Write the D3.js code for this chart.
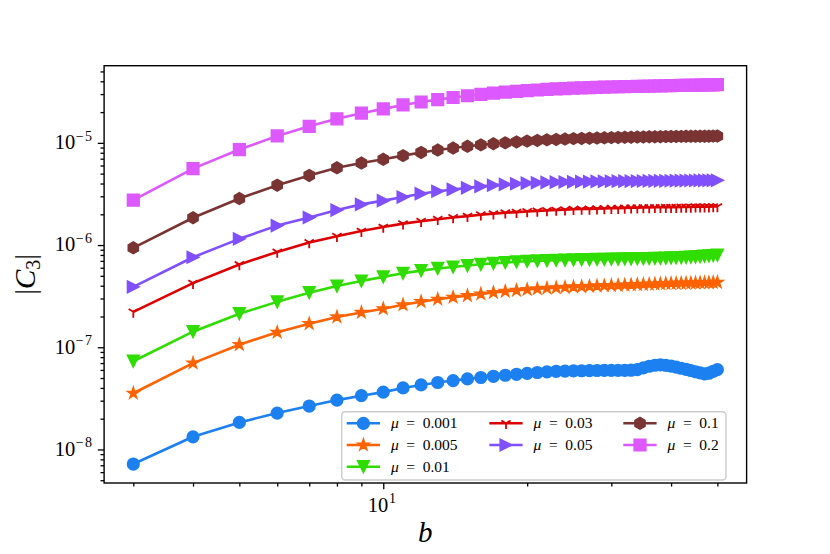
<!DOCTYPE html>
<html>
<head>
<meta charset="utf-8">
<script src="https://cdn.jsdelivr.net/npm/d3@7"></script>
<style>
body { margin: 0; background: #fff; }
svg { display: block; }
text { font-family: "Liberation Serif", "DejaVu Serif", serif; fill: #000; }
</style>
</head>
<body>
<div id="chart"></div>
<script>
// b values (x axis)
const bValues = [3, 4, 5, 6, 7, 8, 9, 10, 11, 12, 13, 14, 15, 16, 17, 18, 19, 20,
    21, 22, 23, 24, 25, 26, 27, 28, 29, 30, 31, 32, 33, 34, 35, 36, 37, 38, 39, 40,
    41, 42, 43, 44, 45, 46, 47, 48, 49, 50];

// |C3| for each mu
const c3Mu0001 = [7.2e-9, 1.33e-8, 1.84e-8, 2.27e-8, 2.66e-8, 3.04e-8, 3.36e-8, 3.64e-8,
    4.0e-8, 4.28e-8, 4.52e-8, 4.72e-8, 4.9e-8, 5.06e-8, 5.2e-8, 5.32e-8, 5.44e-8, 5.56e-8,
    5.66e-8, 5.75e-8, 5.82e-8, 5.85e-8, 5.87e-8, 5.89e-8, 5.9e-8, 5.92e-8, 5.93e-8, 5.93e-8,
    5.93e-8, 5.94e-8, 5.96e-8, 6.05e-8, 6.28e-8, 6.52e-8, 6.67e-8, 6.72e-8, 6.65e-8, 6.55e-8,
    6.4e-8, 6.23e-8, 6.07e-8, 5.92e-8, 5.76e-8, 5.62e-8, 5.49e-8, 5.57e-8, 5.82e-8, 6.05e-8];
const c3Mu0005 = [3.55e-8, 7.0e-8, 1.06e-7, 1.4e-7, 1.7e-7, 1.98e-7, 2.19e-7, 2.38e-7,
    2.6e-7, 2.79e-7, 2.95e-7, 3.08e-7, 3.2e-7, 3.32e-7, 3.43e-7, 3.52e-7, 3.6e-7, 3.67e-7,
    3.73e-7, 3.78e-7, 3.82e-7, 3.86e-7, 3.89e-7, 3.92e-7, 3.95e-7, 3.98e-7, 4.0e-7, 4.02e-7,
    4.04e-7, 4.06e-7, 4.08e-7, 4.1e-7, 4.12e-7, 4.14e-7, 4.16e-7, 4.18e-7, 4.2e-7, 4.21e-7,
    4.22e-7, 4.23e-7, 4.24e-7, 4.25e-7, 4.26e-7, 4.27e-7, 4.28e-7, 4.29e-7, 4.3e-7, 4.31e-7];
const c3Mu001 = [7.3e-8, 1.42e-7, 2.13e-7, 2.78e-7, 3.42e-7, 3.97e-7, 4.45e-7, 4.88e-7,
    5.3e-7, 5.62e-7, 5.9e-7, 6.1e-7, 6.3e-7, 6.48e-7, 6.62e-7, 6.75e-7, 6.86e-7, 6.94e-7,
    7.0e-7, 7.05e-7, 7.1e-7, 7.13e-7, 7.16e-7, 7.19e-7, 7.21e-7, 7.23e-7, 7.25e-7, 7.27e-7,
    7.29e-7, 7.31e-7, 7.33e-7, 7.35e-7, 7.37e-7, 7.39e-7, 7.41e-7, 7.43e-7, 7.45e-7, 7.48e-7,
    7.51e-7, 7.54e-7, 7.58e-7, 7.62e-7, 7.67e-7, 7.72e-7, 7.78e-7, 7.84e-7, 7.9e-7, 7.98e-7];
const c3Mu003 = [2.22e-7, 4.24e-7, 6.45e-7, 8.57e-7, 1.06e-6, 1.22e-6, 1.37e-6, 1.5e-6,
    1.62e-6, 1.71e-6, 1.79e-6, 1.86e-6, 1.92e-6, 1.98e-6, 2.03e-6, 2.07e-6, 2.1e-6, 2.13e-6,
    2.16e-6, 2.18e-6, 2.2e-6, 2.22e-6, 2.24e-6, 2.25e-6, 2.26e-6, 2.27e-6, 2.28e-6, 2.29e-6,
    2.3e-6, 2.31e-6, 2.32e-6, 2.32e-6, 2.33e-6, 2.33e-6, 2.34e-6, 2.34e-6, 2.35e-6, 2.35e-6,
    2.35e-6, 2.36e-6, 2.36e-6, 2.36e-6, 2.37e-6, 2.37e-6, 2.37e-6, 2.37e-6, 2.38e-6, 2.38e-6];
const c3Mu005 = [3.9e-7, 7.6e-7, 1.15e-6, 1.55e-6, 1.86e-6, 2.2e-6, 2.5e-6, 2.72e-6,
    2.95e-6, 3.18e-6, 3.36e-6, 3.5e-6, 3.63e-6, 3.75e-6, 3.85e-6, 3.92e-6, 3.98e-6, 4.03e-6,
    4.07e-6, 4.1e-6, 4.12e-6, 4.14e-6, 4.16e-6, 4.17e-6, 4.18e-6, 4.19e-6, 4.2e-6, 4.21e-6,
    4.215e-6, 4.22e-6, 4.225e-6, 4.23e-6, 4.235e-6, 4.24e-6, 4.245e-6, 4.25e-6, 4.255e-6, 4.26e-6,
    4.265e-6, 4.27e-6, 4.275e-6, 4.28e-6, 4.285e-6, 4.29e-6, 4.29e-6, 4.295e-6, 4.3e-6, 4.3e-6];
const c3Mu01 = [9.4e-7, 1.85e-6, 2.85e-6, 3.85e-6, 4.8e-6, 5.7e-6, 6.35e-6, 6.9e-6,
    7.5e-6, 8.05e-6, 8.5e-6, 8.9e-6, 9.25e-6, 9.55e-6, 9.8e-6, 1.0e-5, 1.02e-5, 1.04e-5,
    1.055e-5, 1.07e-5, 1.08e-5, 1.09e-5, 1.1e-5, 1.105e-5, 1.11e-5, 1.115e-5, 1.12e-5, 1.125e-5,
    1.13e-5, 1.133e-5, 1.136e-5, 1.139e-5, 1.142e-5, 1.145e-5, 1.147e-5, 1.149e-5, 1.151e-5, 1.153e-5,
    1.155e-5, 1.157e-5, 1.158e-5, 1.159e-5, 1.16e-5, 1.161e-5, 1.162e-5, 1.163e-5, 1.164e-5, 1.165e-5];
const c3Mu02 = [2.75e-6, 5.6e-6, 8.6e-6, 1.17e-5, 1.45e-5, 1.72e-5, 1.95e-5, 2.15e-5,
    2.35e-5, 2.51e-5, 2.65e-5, 2.78e-5, 2.89e-5, 2.98e-5, 3.06e-5, 3.13e-5, 3.19e-5, 3.24e-5,
    3.29e-5, 3.33e-5, 3.37e-5, 3.4e-5, 3.43e-5, 3.45e-5, 3.47e-5, 3.49e-5, 3.51e-5, 3.52e-5,
    3.54e-5, 3.55e-5, 3.56e-5, 3.57e-5, 3.58e-5, 3.59e-5, 3.6e-5, 3.61e-5, 3.62e-5, 3.63e-5,
    3.64e-5, 3.65e-5, 3.66e-5, 3.66e-5, 3.67e-5, 3.68e-5, 3.69e-5, 3.69e-5, 3.7e-5, 3.71e-5];

const muLabels = ["0.001", "0.005", "0.01", "0.03", "0.05", "0.1", "0.2"];
const series = [c3Mu0001, c3Mu0005, c3Mu001, c3Mu003, c3Mu005, c3Mu01, c3Mu02];

const seriesColors = ["#1c80f0", "#ff6200", "#30dd00", "#dd0000", "#8050ff", "#7a3434", "#dd58ff"];
const seriesMarkers = ["circle", "star", "triangleDown", "triDown", "triangleRight", "hexagon", "square"];

const width = 830;
const height = 554;
const margin = { top: 65.7, right: 83.4, bottom: 71, left: 104.1 };
const plotW = width - margin.left - margin.right;
const plotH = height - margin.top - margin.bottom;

const svg = d3.select("#chart")
    .append("svg")
    .attr("width", width)
    .attr("height", height);

const g = svg.append("g")
    .attr("transform", `translate(${margin.left},${margin.top})`);

// matplotlib style 5% padding in log space
function logPad(ext) {
    const l0 = Math.log10(ext[0]), l1 = Math.log10(ext[1]);
    const p = (l1 - l0) * 0.05;
    return [Math.pow(10, l0 - p), Math.pow(10, l1 + p)];
}

const xScale = d3.scaleLog().domain(logPad(d3.extent(bValues))).range([0, plotW]);
const yScale = d3.scaleLog().domain(logPad(d3.extent(series.flat()))).range([plotH, 0]);

// ticks
const isMajor = v => Math.abs(Math.log10(v) - Math.round(Math.log10(v))) < 1e-9;
const yTicks = yScale.ticks();
const xTicks = xScale.ticks();

g.append("g")
    .attr("class", "axis")
    .attr("transform", `translate(0,${plotH})`)
    .call(d3.axisBottom(xScale).tickValues(xTicks.filter(v => !isMajor(v))).tickSize(3.6).tickFormat(""));
g.append("g")
    .attr("class", "axis")
    .attr("transform", `translate(0,${plotH})`)
    .call(d3.axisBottom(xScale).tickValues(xTicks.filter(isMajor)).tickSize(6.3).tickFormat(""));
g.append("g")
    .attr("class", "axis")
    .call(d3.axisLeft(yScale).tickValues(yTicks.filter(v => !isMajor(v))).tickSize(3.6).tickFormat(""));
g.append("g")
    .attr("class", "axis")
    .call(d3.axisLeft(yScale).tickValues(yTicks.filter(isMajor)).tickSize(6.3).tickFormat(""));

g.selectAll(".axis .domain").remove();
g.selectAll(".axis line").attr("stroke", "#000").attr("stroke-width", 1.3);

// y tick labels 10^k
yTicks.filter(isMajor).forEach(v => {
    const e = Math.round(Math.log10(v));
    const y = yScale(v);
    g.append("text")
        .attr("x", -28.8)
        .attr("y", y + 6.4)
        .attr("text-anchor", "end")
        .style("font-size", "20.5px")
        .text("10");
    g.append("text")
        .attr("x", -28.4)
        .attr("y", y - 2.2)
        .style("font-size", "14px")
        .style("letter-spacing", "1.5px")
        .text(e < 0 ? "\u2212" + (-e) : String(e));
});

// x tick labels
xTicks.filter(isMajor).forEach(v => {
    const e = Math.round(Math.log10(v));
    const x = xScale(v);
    g.append("text")
        .attr("x", x + 5)
        .attr("y", plotH + 28.8)
        .attr("text-anchor", "end")
        .style("font-size", "20.5px")
        .text("10");
    g.append("text")
        .attr("x", x + 5.8)
        .attr("y", plotH + 20.3)
        .style("font-size", "14px")
        .text(String(e));
});

// marker shapes, following matplotlib's unit paths
function markerPath(type, ms) {
    const r = ms / 2;
    const poly = pts => "M" + pts.map(p => p[0].toFixed(2) + "," + p[1].toFixed(2)).join("L") + "Z";
    if (type === "circle") {
        return d3.symbol(d3.symbolCircle, Math.PI * r * r)();
    } else if (type === "square") {
        return poly([[-r, -r], [r, -r], [r, r], [-r, r]]);
    } else if (type === "triangleDown") {
        return poly([[0, r], [-r, -r], [r, -r]]);
    } else if (type === "triangleRight") {
        return poly([[r, 0], [-r, -r], [-r, r]]);
    } else if (type === "hexagon") {
        return poly(d3.range(6).map(i => {
            const a = Math.PI / 2 + i * Math.PI / 3;
            return [r * Math.cos(a), -r * Math.sin(a)];
        }));
    } else if (type === "star") {
        return poly(d3.range(10).map(i => {
            const rr = i % 2 === 0 ? r : r * 0.381966;
            const a = Math.PI / 2 + i * Math.PI / 5;
            return [rr * Math.cos(a), -rr * Math.sin(a)];
        }));
    } else if (type === "triDown") {
        return `M0,0L0,${r}M0,0L${0.8 * r},${-0.5 * r}M0,0L${-0.8 * r},${-0.5 * r}`;
    }
}

function drawMarker(sel, type, color) {
    const p = sel.append("path").attr("d", markerPath(type, 11.6));
    if (type === "triDown") {
        p.attr("fill", "none").attr("stroke", color).attr("stroke-width", 1.8);
    } else {
        p.attr("fill", color).attr("stroke", color).attr("stroke-width", 1.6)
            .attr("stroke-linejoin", "miter");
    }
    return p;
}

const line = d3.line()
    .x((d, i) => xScale(bValues[i]))
    .y(d => yScale(d));

const plot = g.append("g");

series.forEach((vals, k) => {
    const sg = plot.append("g");
    sg.append("path")
        .datum(vals)
        .attr("d", line)
        .attr("fill", "none")
        .attr("stroke", seriesColors[k])
        .attr("stroke-width", 2.6)
        .attr("stroke-linejoin", "round");
    vals.forEach((v, i) => {
        drawMarker(sg, seriesMarkers[k], seriesColors[k])
            .attr("transform", `translate(${xScale(bValues[i])},${yScale(v)})`);
    });
});

// frame
g.append("rect")
    .attr("width", plotW)
    .attr("height", plotH)
    .attr("fill", "none")
    .attr("stroke", "#000")
    .attr("stroke-width", 1.4);

// axis labels
svg.append("text")
    .attr("x", margin.left + plotW / 2)
    .attr("y", 541.5)
    .attr("text-anchor", "middle")
    .style("font-size", "29px")
    .style("font-style", "italic")
    .text("b");

const yLabel = svg.append("text")
    .attr("transform", `translate(34.5,${margin.top + plotH / 2}) rotate(-90)`)
    .attr("text-anchor", "middle")
    .style("font-size", "29px");
yLabel.append("tspan").text("|");
yLabel.append("tspan").style("font-style", "italic").text("C");
yLabel.append("tspan").attr("dy", 5).style("font-size", "20px").text("3");
yLabel.append("tspan").attr("dy", -5).text("|");

// legend, filled column by column like matplotlib (3 columns)
const legend = svg.append("g");
legend.append("rect")
    .attr("x", 341.7)
    .attr("y", 411.7)
    .attr("width", 384.3)
    .attr("height", 68.3)
    .attr("rx", 3.5)
    .attr("fill", "#fff")
    .attr("fill-opacity", 0.8)
    .attr("stroke", "#cccccc")
    .attr("stroke-width", 1.4);

const legendCols = [346.7, 489.3, 623.3];
const legendRows = [423.3, 445, 466.7];
const colOf = [0, 0, 0, 1, 1, 2, 2];
const rowOf = [0, 1, 2, 0, 1, 0, 1];

series.forEach((vals, k) => {
    const x0 = legendCols[colOf[k]];
    const y0 = legendRows[rowOf[k]];
    const item = legend.append("g");
    item.append("line")
        .attr("x1", x0).attr("x2", x0 + 33.3)
        .attr("y1", y0).attr("y2", y0)
        .attr("stroke", seriesColors[k])
        .attr("stroke-width", 2.6);
    drawMarker(item, seriesMarkers[k], seriesColors[k])
        .attr("transform", `translate(${x0 + 16.7},${y0})`);
    const tx = x0 + 44.3;
    item.append("text")
        .attr("x", tx).attr("y", y0 + 4.8)
        .style("font-size", "15.5px").style("font-style", "italic")
        .text("\u03bc");
    item.append("text")
        .attr("x", tx + 19.7).attr("y", y0 + 4.8)
        .attr("text-anchor", "middle")
        .style("font-size", "15.5px")
        .text("=");
    item.append("text")
        .attr("x", tx + 31.7).attr("y", y0 + 4.8)
        .style("font-size", "15.5px")
        .text(muLabels[k]);
});
</script>
</body>
</html>
